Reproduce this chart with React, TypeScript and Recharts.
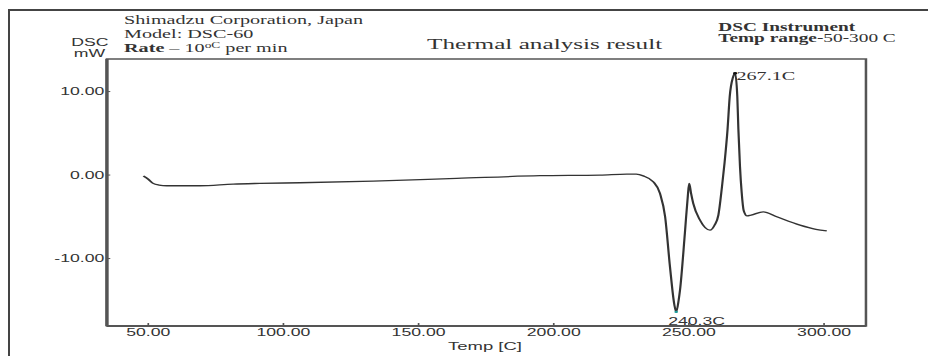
import { LineChart, Line, XAxis, YAxis, ReferenceArea, ReferenceDot } from 'recharts';

// DSC trace
const temps = [
  48.2, 50, 51.8, 54, 56.8, 69.1, 81.4, 91.3, 106.1, 133.2, 164.1, 194.9, 217.1, 227.0, 230.5,
  233.1, 236.8, 239.3, 241.2, 243.0, 244.6, 245.3, 246.2, 246.7, 248.5, 249.6, 250.1, 250.8,
  251.6, 254.1, 257.8, 259.5, 260.9, 262.2, 263.2, 264.3, 265.1, 266.3, 267.1, 267.9, 268.3,
  268.9, 269.5, 270.3, 271.5, 273.0, 277.5, 282.5, 291.1, 297.0, 301.0,
];
const dsc = [
  -0.12, -0.5, -1.0, -1.2, -1.28, -1.28, -1.08, -1.0, -0.92, -0.72, -0.4, -0.08, 0.0, 0.12, 0.1,
  -0.1, -0.8, -2.2, -5.0, -11.0, -15.5, -16.4, -15.0, -13.8, -7.0, -2.5, -1.0, -2.2,
  -3.4, -5.4, -6.6, -6.0, -4.8, -1.5, 1.5, 5.5, 9.4, 11.7, 12.2, 9.4, 5.5,
  1.0, -2.0, -4.3, -4.9, -4.8, -4.4, -5.0, -6.0, -6.5, -6.7,
];

const xTicks = [50, 100, 150, 200, 250, 300];
const yTicks = [-10, 0, 10];
const xDomain: [number, number] = [34.7, 315.5];
const yDomain: [number, number] = [-18.08, 13.9];

const peakMax = { temp: 267.1, value: 12.2, label: '267.1C' };
const peakMin = { temp: 245.3, value: -16.4, label: '240.3C' };

const data = temps.map((t, i) => ({ temp: t, dsc: dsc[i] }));

// the original picture is stretched sideways, so draw narrow and scale
const W = 552;
const H = 356;
const STRETCH = 928 / W;

const SERIF = '"Liberation Serif", "Times New Roman", serif';
const SANS = '"Liberation Sans", Arial, sans-serif';
const TEXT = '#333';
const AXIS = '#555';

function XTick({ x, y, payload }: any) {
  return (
    <g>
      <line x1={x} x2={x} y1={y} y2={y - 3} stroke={AXIS} strokeWidth={1} />
      <text x={x} y={y + 10} textAnchor="middle" fontSize={10.5} fontFamily={SANS} fill={TEXT}>
        {Number(payload.value).toFixed(2)}
      </text>
    </g>
  );
}

function YTick({ x, y, payload }: any) {
  return (
    <g>
      <line x1={x} x2={x + 2} y1={y} y2={y} stroke={AXIS} strokeWidth={1} />
      <text x={x - 1.5} y={y + 3.8} textAnchor="end" fontSize={10.5} fontFamily={SANS} fill={TEXT}>
        {Number(payload.value).toFixed(2)}
      </text>
    </g>
  );
}

function centerOf(p: any) {
  const vb = p.viewBox || {};
  return { cx: (vb.x ?? 0) + (vb.width ?? 0) / 2, cy: (vb.y ?? 0) + (vb.height ?? 0) / 2 };
}

export default function App() {
  return (
    <div style={{ position: 'absolute', left: 0, top: 0, width: 928, height: 356, overflow: 'hidden', background: '#fff' }}>
      <div
        style={{
          position: 'absolute',
          left: 8,
          top: 9,
          width: 1200,
          height: 1200,
          border: '2px solid #444',
        }}
      />
      <div
        style={{
          position: 'absolute',
          left: 0,
          top: 0,
          width: W,
          height: H,
          transform: `scaleX(${STRETCH})`,
          transformOrigin: '0 0',
        }}
      >
        <LineChart width={W} height={H} data={data} margin={{ top: 59, right: 36.9, bottom: 0, left: 23.6 }}>
          <XAxis
            type="number"
            dataKey="temp"
            domain={xDomain}
            ticks={xTicks}
            allowDataOverflow
            height={30}
            tickSize={0}
            tickMargin={0}
            tickLine={false}
            tick={<XTick />}
            axisLine={{ stroke: AXIS, strokeWidth: 2 }}
          />
          <YAxis
            type="number"
            domain={yDomain}
            ticks={yTicks}
            allowDataOverflow
            width={40}
            tickSize={0}
            tickMargin={0}
            tickLine={false}
            tick={<YTick />}
            axisLine={{ stroke: AXIS, strokeWidth: 2 }}
          />
          <ReferenceArea
            x1={xDomain[0]}
            x2={xDomain[1]}
            y1={yDomain[0]}
            y2={yDomain[1]}
            fill="none"
            fillOpacity={0}
            stroke={AXIS}
            strokeWidth={1.5}
          />
          <Line
            type="monotone"
            dataKey="dsc"
            stroke="#333"
            strokeWidth={1.3}
            dot={false}
            isAnimationActive={false}
          />
          <ReferenceDot
            x={peakMax.temp}
            y={peakMax.value}
            r={1.3}
            fill="#111"
            stroke="none"
            label={(p: any) => {
              const { cx, cy } = centerOf(p);
              return (
                <text x={cx + 0.8} y={cy + 7} fontSize={12} fontFamily={SERIF} fill={TEXT}>
                  {peakMax.label}
                </text>
              );
            }}
          />
          <ReferenceDot
            x={peakMin.temp}
            y={peakMin.value}
            r={1.1}
            fill="#1a9a9a"
            stroke="none"
            label={(p: any) => {
              const { cx, cy } = centerOf(p);
              return (
                <text x={cx - 4.8} y={cy + 13.3} fontSize={10.5} fontFamily={SANS} fill={TEXT}>
                  {peakMin.label}
                </text>
              );
            }}
          />
        </LineChart>
        <svg
          width={W}
          height={H}
          style={{ position: 'absolute', left: 0, top: 0, pointerEvents: 'none' }}
        >
          <g fontFamily={SERIF} fontSize={12} fill={TEXT}>
            <text x={73.8} y={24}>Shimadzu Corporation, Japan</text>
            <text x={73.8} y={38}>Model: DSC-60</text>
            <text x={73.8} y={52}>
              <tspan fontWeight="bold">Rate</tspan>
              {' – 10'}
              <tspan fontSize={8} dy={-4}>oC</tspan>
              <tspan dy={4}>{' per min'}</tspan>
            </text>
            <text x={254} y={49} fontSize={15}>Thermal analysis result</text>
            <text x={427.3} y={31} fontSize={11.5} fontWeight="bold">DSC Instrument</text>
            <text x={427.3} y={42} fontSize={11.5}>
              <tspan fontWeight="bold">Temp range</tspan>-50-300 C
            </text>
          </g>
          <g fontFamily={SANS} fontSize={10.5} fill={TEXT} textAnchor="middle">
            <text x={53.5} y={46.5}>DSC</text>
            <text x={53.2} y={57}>mW</text>
          </g>
          <text x={266.5} y={350} fontFamily={SANS} fontSize={11} fill={TEXT}>
            Temp<tspan dx={3}>[C]</tspan>
          </text>
        </svg>
      </div>
    </div>
  );
}
